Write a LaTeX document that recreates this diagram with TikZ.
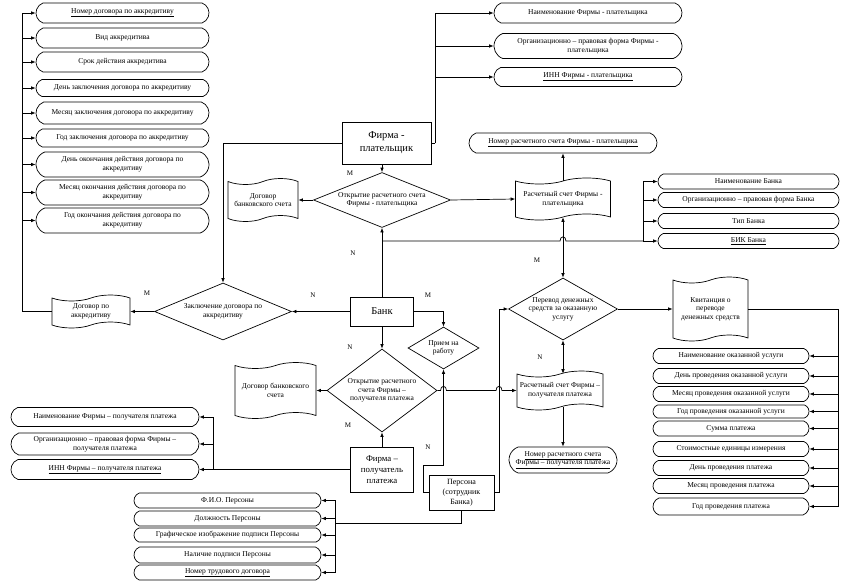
\documentclass[tikz,border=0pt]{standalone}
\usepackage{fontspec}
\setmainfont{Liberation Serif}
\usetikzlibrary{shapes.geometric,shapes.misc,shapes.symbols,arrows.meta}
\newcommand\fsz{\fontsize{7.5}{8.6}\selectfont}
\newcommand\fbig{\fontsize{10.5}{13}\selectfont}
\newcommand\fmid{\fontsize{8.8}{11}\selectfont}
\begin{document}
\begin{tikzpicture}[x=1pt,y=-1pt,
  every node/.style={font=\fsz, align=center, inner sep=1pt},
  term/.style={draw, line width=0.7pt, rounded rectangle, rounded rectangle arc length=140},
  doc/.style={draw, line width=0.7pt, tape, tape bend height=6pt},
  dia/.style={draw, line width=0.7pt, diamond, inner sep=0pt},
  ent/.style={draw, line width=0.7pt, rectangle},
  ln/.style={line width=0.7pt},
  arr/.style={line width=0.7pt, -{Latex[length=4.5pt,width=3.6pt]}},
  arrb/.style={line width=0.7pt, {Latex[length=4.5pt,width=3.6pt]}-{Latex[length=4.5pt,width=3.6pt]}},
  card/.style={font=\fontsize{7}{8}\selectfont, fill=white, inner sep=1pt}
]
\useasboundingbox (0,0) rectangle (860,581);

% ---------- left column (accreditive contract attributes)
\begin{scope}[every node/.append style={minimum width=175pt}]
\node[term, minimum height=20pt] (lb1) at (122.5,13) {\underline{Номер договора по аккредитиву}};
\node[term, minimum height=20pt] (lb2) at (122.5,38) {Вид аккредитива};
\node[term, minimum height=20pt] (lb3) at (122.5,62) {Срок действия аккредитива};
\node[term, minimum height=17pt] (lb4) at (122.5,88) {День заключения договора по аккредитиву};
\node[term, minimum height=22pt] (lb5) at (122.5,113) {Месяц заключения договора по аккредитиву};
\node[term, minimum height=18pt] (lb6) at (122.5,138) {Год заключения договора по аккредитиву};
\node[term, minimum height=25pt] (lb7) at (122.5,164.5) {День окончания действия договора по\\аккредитиву};
\node[term, minimum height=25pt] (lb8) at (122.5,192.5) {Месяц окончания действия договора по\\аккредитиву};
\node[term, minimum height=25pt] (lb9) at (122.5,220.5) {Год окончания действия договора по\\аккредитиву};
\end{scope}

% ---------- payer firm attributes
\begin{scope}[every node/.append style={minimum width=190pt}]
\node[term, minimum height=20pt] (tb1) at (588,13) {Наименование Фирмы - плательщика};
\node[term, minimum height=25pt] (tb2) at (588,46) {Организационно – правовая форма Фирмы -\\плательщика};
\node[term, minimum height=19pt] (tb3) at (588,77) {\underline{ИНН Фирмы - плательщика}};
\node[term, minimum height=20pt] (nr1) at (563,143) {\underline{Номер расчетного счета Фирмы - плательщика}};
\end{scope}

% ---------- bank attributes
\begin{scope}[every node/.append style={minimum width=183pt, minimum height=15pt}]
\node[term] (bn1) at (748.5,181.5) {Наименование Банка};
\node[term] (bn2) at (748.5,200) {Организационно – правовая форма Банка};
\node[term] (bn3) at (748.5,221) {Тип Банка};
\node[term] (bn4) at (748.5,241) {\underline{БИК Банка}};
\end{scope}

% ---------- entities
\node[ent, font=\fbig, minimum width=89pt, minimum height=42pt] (fp) at (386.5,143) {Фирма -\\плательщик};
\node[ent, font=\fbig, minimum width=63pt, minimum height=29pt] (bank) at (382,311.5) {Банк};
\node[ent, font=\fmid, minimum width=63pt, minimum height=45pt] (fpol) at (382,469.5) {Фирма –\\получатель\\платежа};
\node[ent, font=\fontsize{8}{10}\selectfont, minimum width=65pt, minimum height=35pt] (pers) at (461.5,492.5) {Персона\\(сотрудник\\Банка)};

% ---------- diamonds
\node[dia, minimum width=137pt, minimum height=55pt] (d1) at (382,200) {};
\node (d1t) at (d1.center) {Открытие расчетного счета\\Фирмы - плательщика};
\node[dia, minimum width=137pt, minimum height=57pt] (d2) at (223,311.5) {};
\node (d2t) at (d2.center) {Заключение договора по\\аккредитиву};
\node[dia, minimum width=109pt, minimum height=62pt] (d3) at (563,309) {};
\node (d3t) at (d3.center) {Перевод денежных\\средств за оказанную\\услугу};
\node[dia, minimum width=71pt, minimum height=42pt] (d4) at (443.5,348) {};
\node (d4t) at (d4.center) {Прием на\\работу};
\node[dia, minimum width=110pt, minimum height=83pt] (d5) at (382,390.5) {};
\node (d5t) at (d5.center) {Открытие расчетного\\счета Фирмы –\\получателя платежа};

% ---------- documents
\node[doc, minimum width=70pt, minimum height=43pt] (doc1) at (263,200) {Договор\\банковского счета};
\node[doc, minimum width=95pt, minimum height=42pt] (doc2) at (563,199) {Расчетный счет Фирмы -\\плательщика};
\node[doc, minimum width=78pt, minimum height=33pt] (docA) at (91,311.5) {Договор по\\аккредитиву};
\node[doc, minimum width=75pt, minimum height=64pt] (kv) at (710.5,309) {Квитанция о\\переводе\\денежных средств};
\node[doc, minimum width=86pt, minimum height=39pt] (doc3) at (560,390.5) {Расчетный счет Фирмы –\\получателя платежа};
\node[doc, minimum width=81pt, minimum height=56pt] (doc4) at (275.5,390.5) {Договор банковского\\счета};
\node[term, minimum width=110pt, minimum height=26pt] (nr2) at (563,460) {\underline{Номер расчетного счета}\\\underline{Фирмы – получателя платежа}};

% ---------- service / payment attributes (right)
\begin{scope}[every node/.append style={minimum width=158pt, minimum height=15pt}]
\node[term] (sb1) at (731,356) {Наименование оказанной услуги};
\node[term] (sb2) at (731,376) {День проведения оказанной услуги};
\node[term] (sb3) at (731,394) {Месяц проведения оказанной услуги};
\node[term, minimum height=13pt] (sb4) at (731,411.5) {Год проведения оказанной услуги};
\node[term] (sb5) at (731,428.5) {Сумма платежа};
\node[term] (sb6) at (731,449) {Стоимостные единицы измерения};
\node[term] (sb7) at (731,468) {День проведения платежа};
\node[term] (sb8) at (731,486) {Месяц проведения платежа};
\node[term, minimum height=17pt] (sb9) at (731,506.5) {Год проведения платежа};
\end{scope}

% ---------- receiver firm attributes (left)
\begin{scope}[every node/.append style={minimum width=190pt}]
\node[term, minimum height=19pt] (rb1) at (105,417) {Наименование Фирмы – получателя платежа};
\node[term, minimum height=22pt] (rb2) at (105,444) {Организационно – правовая форма Фирмы –\\получателя платежа};
\node[term, minimum height=20pt] (rb3) at (105,469.5) {\underline{ИНН Фирмы – получателя платежа}};
\end{scope}

% ---------- person attributes (bottom)
\begin{scope}[every node/.append style={minimum width=189pt}]
\node[term, minimum height=15pt] (pb1) at (227.5,500.5) {Ф.И.О. Персоны};
\node[term, minimum height=15pt] (pb2) at (227.5,518.5) {Должность Персоны};
\node[term, minimum height=14pt] (pb3) at (227.5,535) {Графическое изображение подписи Персоны};
\node[term, minimum height=16pt] (pb4) at (227.5,555) {Наличие подписи Персоны};
\node[term, minimum height=15pt] (pb5) at (227.5,572.5) {\underline{Номер трудового договора}};
\end{scope}

% ---------- helper coordinates
\coordinate (fpr) at (435,143);
\coordinate (lv) at (22,311.5);
\coordinate (bj) at (382,241);
\coordinate (bk) at (643,241);
\coordinate (rv) at (213,469.5);
\coordinate (kvr) at (838,309);
\coordinate (pj) at (335,523);
\coordinate (pl) at (423,492.5);
\coordinate (pu) at (423,465);
\coordinate (prr) at (499,492.5);

% ---------- connectors: payer firm
\draw[arr] (fp.west) -| (d2.north);
\draw[arr] (d1.north |- fp.south) -- (d1.north);
\draw[ln] (fp.east) -- (fpr);
\draw[arr] (fpr) |- (tb1.west);
\draw[arr] (fpr) |- (tb2.west);
\draw[arr] (fpr) |- (tb3.west);
\draw[arr] (d1.west) -- (doc1.east);
\draw[arr] (d1.east) -- (doc2.west);
\draw[arr] (doc2.north) -- (nr1.south);

% ---------- bank
\draw[arr] (bank.north) -- (d1.south);
\draw[ln] (bj) -- (560,241) .. controls (560,235.5) and (566,235.5) .. (566,241) -- (bk);
\draw[arr] (bk) |- (bn1.west);
\draw[arr] (bk) |- (bn2.west);
\draw[arr] (bk) |- (bn3.west);
\draw[arr] (bk) -- (bn4.west);
\draw[arrb] (d3.north) -- (doc2.south);
\draw[arr] (bank.west) -- (d2.east);
\draw[arr] (d2.west) -- (docA.east);
\draw[ln] (docA.west) -- (lv);
\foreach \b in {lb1,lb2,lb3,lb4,lb5,lb6,lb7,lb8,lb9}
  \draw[arr] (lv) |- (\b.west);
\draw[arr] (bank.east) -| (d4.north);
\draw[arr] (bank.south) -- (d5.north);

% ---------- receiver firm
\draw[arr] (d5.west) -- (doc4.east);
\draw[arr] (fpol.north) -- (d5.south);
\draw[ln] (fpol.west) -- (rv);
\draw[arr] (rv) |- (rb1.east);
\draw[arr] (rv) |- (rb2.east);
\draw[arr] (rv) -- (rb3.east);
\draw[arr] (d5.east) -- (440.5,390.5) .. controls (440.5,385) and (446.5,385) .. (446.5,390.5)
   -- (496,390.5) .. controls (496,385) and (502,385) .. (502,390.5) -- (doc3.west);

% ---------- person
\draw[arr] (pers.west) -- (pl) -- (pu) -| (d4.south);
\draw[arr] (pers.east) -- (prr) |- (d3.west);
\draw[ln] (pers.south) |- (pj);
\foreach \b in {pb1,pb2,pb3,pb4,pb5}
  \draw[arr] (pj) |- (\b.east);

% ---------- payment
\draw[arrb] (d3.south) -- (doc3.north -| d3.south);
\draw[arr] (doc3.south -| nr2.north) -- (nr2.north);
\draw[arr] (d3.east) -- (kv.west);
\draw[ln] (kv.east) -- (kvr);
\foreach \b in {sb1,sb2,sb3,sb4,sb5,sb6,sb7,sb8,sb9}
  \draw[arr] (kvr) |- (\b.east);

% ---------- cardinalities
\node[card] (c1) at (350,173) {M};
\node[card] (c2) at (147,293) {M};
\node[card] (c3) at (313,295) {N};
\node[card] (c4) at (428,295) {M};
\node[card] (c5) at (353,253) {N};
\node[card] (c6) at (350,347) {N};
\node[card] (c7) at (348,425) {M};
\node[card] (c8) at (428,447) {N};
\node[card] (c9) at (537,260) {M};
\node[card] (c10) at (540,357) {N};
\end{tikzpicture}
\end{document}
